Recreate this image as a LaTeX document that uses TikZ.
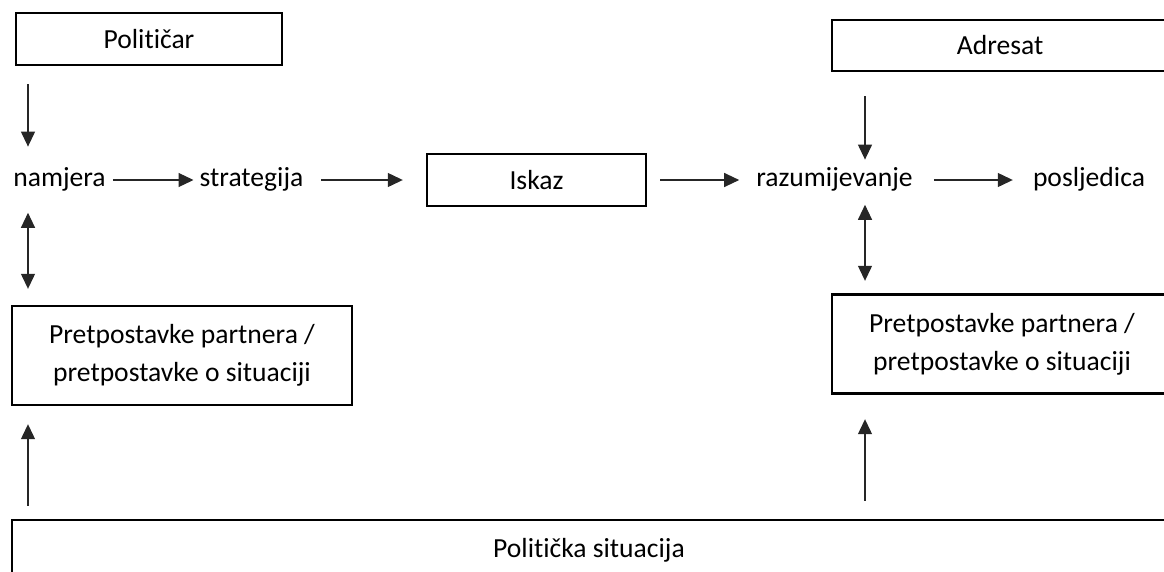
\documentclass[tikz,border=0pt]{standalone}
\usepackage{fontspec}
\setmainfont{Carlito}[Ligatures=NoCommon]
\usetikzlibrary{arrows.meta}
\tikzset{
	box/.style={draw, line width=2.4pt, inner sep=0pt, align=center, font=\fontsize{27.6}{38}\selectfont},
	word/.style={inner sep=0pt, text height=20pt, text depth=7.2pt, font=\fontsize{27.6}{38}\selectfont},
	arr/.style={-{Triangle[length=15pt,width=14pt]}, line width=1.2pt, black!85},
	darr/.style={{Triangle[length=15pt,width=14pt]}-{Triangle[length=15pt,width=14pt]}, line width=1.2pt, black!85}
}

\begin{document}
\begin{tikzpicture}[x=1pt, y=-1pt]
				\useasboundingbox (0, 0) rectangle (1164, 571);
				\clip (0, 0) rectangle (1164, 571);
				
				\coordinate (colL) at (28, 0);
				\coordinate (colR) at (865, 0);
				
				\node[box, minimum width=266pt, minimum height=52pt] (pol) at (149, 39) {Političar};
				\node[box, minimum width=336pt, minimum height=51pt] (adr) at (1000, 45.5) {Adresat};
				
				\node[word] (nam) at (59.5, 180) {namjera};
				\node[word] (str) at (251.5, 180) {strategija};
				\node[box, minimum width=219pt, minimum height=52pt] (isk) at (536.5, 180) {Iskaz};
				\node[word] (raz) at (834.5, 180) {razumijevanje};
				\node[word] (pos) at (1089, 180) {posljedica};
				
				\node[box, minimum width=340pt, minimum height=99pt] (pretL) at (182, 355.5) {Pretpostavke partnera /\\pretpostavke o situaciji};
				\node[box, minimum width=340pt, minimum height=99pt] (pretR) at (1002, 344) {Pretpostavke partnera /\\pretpostavke o situaciji};
				
				\node[box, minimum width=1154pt, minimum height=60pt] (sit) at (589, 550) {Politička situacija};
				
				\draw[arr, shorten <=7pt, shorten >=6pt] (nam) -- (str);
				\draw[arr, shorten <=18pt, shorten >=23pt] (str) -- (isk);
				\draw[arr, shorten <=13pt, shorten >=17pt] (isk) -- (raz);
				\draw[arr, shorten <=21pt, shorten >=20pt] (raz) -- (pos);
				
				\draw[arr, shorten <=18pt, shorten >=19.6pt] (pol.south -| colL) -- (nam.north -| colL);
				\draw[arr, shorten <=24pt, shorten >=6.6pt] (adr.south -| colR) -- (raz.north -| colR);
				
				\draw[darr, shorten <=19pt, shorten >=16pt] (nam.south -| colL) -- (pretL.north -| colL);
				\draw[darr, shorten <=11pt, shorten >=12.5pt] (raz.south -| colR) -- (pretR.north -| colR);
				
				\draw[arr, shorten <=13pt, shorten >=18pt] (sit.north -| colL) -- (pretL.south -| colL);
				\draw[arr, shorten <=18pt, shorten >=24.5pt] (sit.north -| colR) -- (pretR.south -| colR);
\end{tikzpicture}
\end{document}
